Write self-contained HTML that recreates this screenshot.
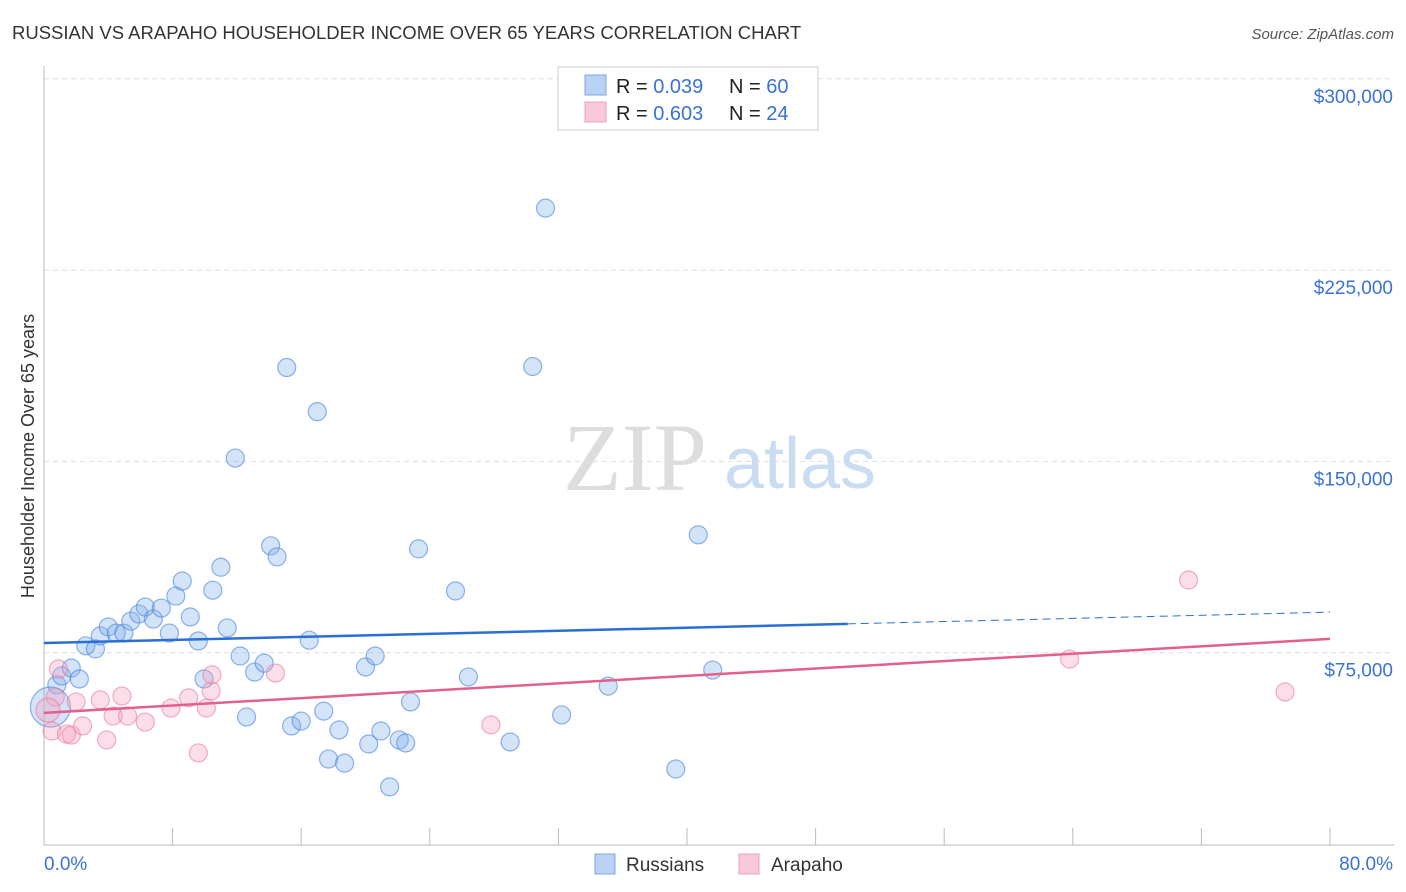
<!DOCTYPE html>
<html><head><meta charset="utf-8"><style>
body{margin:0;background:#fff;font-family:"Liberation Sans",sans-serif;}
svg{display:block}
</style></head><body>
<svg id="chart" width="1406" height="892" viewBox="0 0 1406 892" xmlns="http://www.w3.org/2000/svg">
<text x="12" y="39" font-size="18.5" fill="#333">RUSSIAN VS ARAPAHO HOUSEHOLDER INCOME OVER 65 YEARS CORRELATION CHART</text>
<text x="1394" y="39" font-size="15" fill="#555" font-style="italic" text-anchor="end">Source: ZipAtlas.com</text>
<text transform="translate(34,456) rotate(-90)" font-size="18" fill="#333" text-anchor="middle">Householder Income Over 65 years</text>
<g id="grid"></g>
<g>
<text x="635" y="490" font-size="96" fill="#ddd" font-family="Liberation Serif,serif" text-anchor="middle">ZIP</text>
<text x="800" y="488" font-size="72" fill="#c9dcf2" text-anchor="middle">atlas</text>
</g>
<g id="ticks"></g>
<g id="pts"></g>
<g id="trends"></g>
<g>
<rect x="558" y="67" width="260" height="63" fill="#fff" stroke="#ccc"/>
<rect x="585" y="75" width="21" height="20" fill="#b8d1f5" stroke="#7ea6e0"/>
<rect x="585" y="102" width="21" height="20" fill="#fac8d8" stroke="#eea0b8"/>
<text x="616" y="93" font-size="20" fill="#222">R = <tspan fill="#3a72d8">0.039</tspan></text>
<text x="729" y="93" font-size="20" fill="#222">N = <tspan fill="#3a72d8">60</tspan></text>
<text x="616" y="120" font-size="20" fill="#222">R = <tspan fill="#3a72d8">0.603</tspan></text>
<text x="729" y="120" font-size="20" fill="#222">N = <tspan fill="#3a72d8">24</tspan></text>
</g>
<g>
<rect x="595" y="854" width="20" height="20" fill="#b8d1f5" stroke="#7ea6e0"/>
<text x="626" y="871" font-size="19" fill="#333">Russians</text>
<rect x="739" y="854" width="20" height="20" fill="#fac8d8" stroke="#eea0b8"/>
<text x="771" y="871" font-size="19" fill="#333">Arapaho</text>
</g>
</svg>
<script>
const yTicks=[75000,150000,225000,300000];
const yTickLabels=["$75,000","$150,000","$225,000","$300,000"];
const xTicks=[0,8,16,24,32,40,48,56,64,72,80];
const russiansX=[0.8,1.1,1.7,2.2,2.6,3.2,3.5,4.0,4.5,4.97,5.4,5.9,6.3,6.8,7.3,7.8,8.2,8.6,9.1,9.6,9.96,10.5,11.0,11.4,11.9,12.2,12.6,13.1,13.7,14.1,14.5,15.1,15.4,16.0,16.5,17.0,17.4,17.7,18.35,18.7,20.0,20.2,20.6,20.96,21.5,22.1,22.5,22.8,23.3,25.6,26.4,29.0,30.4,31.2,32.2,35.1,39.3,40.7,41.6,0.4];
const russiansV=[62400,65900,69000,64700,77700,76500,81600,85100,82700,82700,87400,90200,92900,88200,92500,82700,97200,103100,89000,79600,64700,99500,108500,84700,151300,73700,49800,67400,70900,116900,112600,186800,46300,48200,79900,169500,52100,33300,44700,31700,69400,39200,73700,44300,22400,40800,39600,55700,115700,99200,65500,40000,187200,249300,50600,61900,29400,121200,68200,53700];
const arapahoX=[0.5,0.7,0.9,1.4,1.7,2.0,2.4,3.5,3.9,4.3,4.85,5.2,6.3,7.9,9.0,9.6,10.1,10.4,10.45,14.4,27.8,63.8,71.2,77.2,0.25];
const arapahoV=[44300,57600,68600,43100,42700,55700,46300,56500,40800,50200,58000,50200,47800,53300,57300,35700,53300,60000,66300,67000,46700,72500,103500,59600,52500];
const russianTrend=[[0,78800],[50,86300],[80,90900]];
const arapahoTrend=[[0,51400],[80,80400]];
const X=v=>44+v*16.075, Y=v=>844-v/75000*191.3;
const NS="http://www.w3.org/2000/svg", svg=document.getElementById('chart');
function mk(t,a,p){const e=document.createElementNS(NS,t);for(const k in a)e.setAttribute(k,a[k]);(p||svg).appendChild(e);return e;}
const grid=document.getElementById('grid');
yTicks.forEach((v,i)=>{
 const l=mk('line',{x1:44,x2:1394,y1:Y(v),y2:Y(v),stroke:'#ddd','stroke-dasharray':'5,4'},grid);
 
 
 const t=mk('text',{x:1393,y:Y(v)+24,'font-size':19,fill:'#3a72d8','text-anchor':'end'},grid);
 t.textContent=yTickLabels[i];
 
 
});
const tk=document.getElementById('ticks');
mk('line',{x1:44,x2:44,y1:66,y2:845,stroke:'#bbb'},tk);
mk('line',{x1:44,x2:1394,y1:845,y2:845,stroke:'#bbb'},tk);
xTicks.forEach(v=>{const l=mk('line',{x1:X(v),x2:X(v),y1:828,y2:845,stroke:'#bbb'},tk);
 
 });
let a=mk('text',{x:44,y:870,'font-size':19,fill:'#3a72d8'},tk);a.textContent='0.0%';


a=mk('text',{x:1393,y:870,'font-size':19,fill:'#3a72d8','text-anchor':'end'},tk);a.textContent='80.0%';


const pts=document.getElementById('pts');
russiansX.forEach((x,i)=>{const c=mk('circle',{cx:X(x),cy:Y(russiansV[i]),r:i==59?20:9,fill:'rgba(130,175,235,0.35)',stroke:'rgba(70,130,220,0.6)','stroke-width':1.2},pts);
 
 });
arapahoX.forEach((x,i)=>{const c=mk('circle',{cx:X(x),cy:Y(arapahoV[i]),r:i==24?12:9,fill:'rgba(245,160,190,0.35)',stroke:'rgba(235,120,160,0.6)','stroke-width':1.2},pts);
 
 });
const tr=document.getElementById('trends');
let l=mk('line',{x1:X(russianTrend[0][0]),y1:Y(russianTrend[0][1]),x2:X(russianTrend[1][0]),y2:Y(russianTrend[1][1]),stroke:'#2a6fd6','stroke-width':2.5},tr);


l=mk('line',{x1:X(russianTrend[1][0]),y1:Y(russianTrend[1][1]),x2:X(russianTrend[2][0]),y2:Y(russianTrend[2][1]),stroke:'#2a6fd6','stroke-width':1,'stroke-dasharray':'8,5'},tr);


l=mk('line',{x1:X(arapahoTrend[0][0]),y1:Y(arapahoTrend[0][1]),x2:X(arapahoTrend[1][0]),y2:Y(arapahoTrend[1][1]),stroke:'#e3608a','stroke-width':2.5},tr);


</script>
</body></html>
